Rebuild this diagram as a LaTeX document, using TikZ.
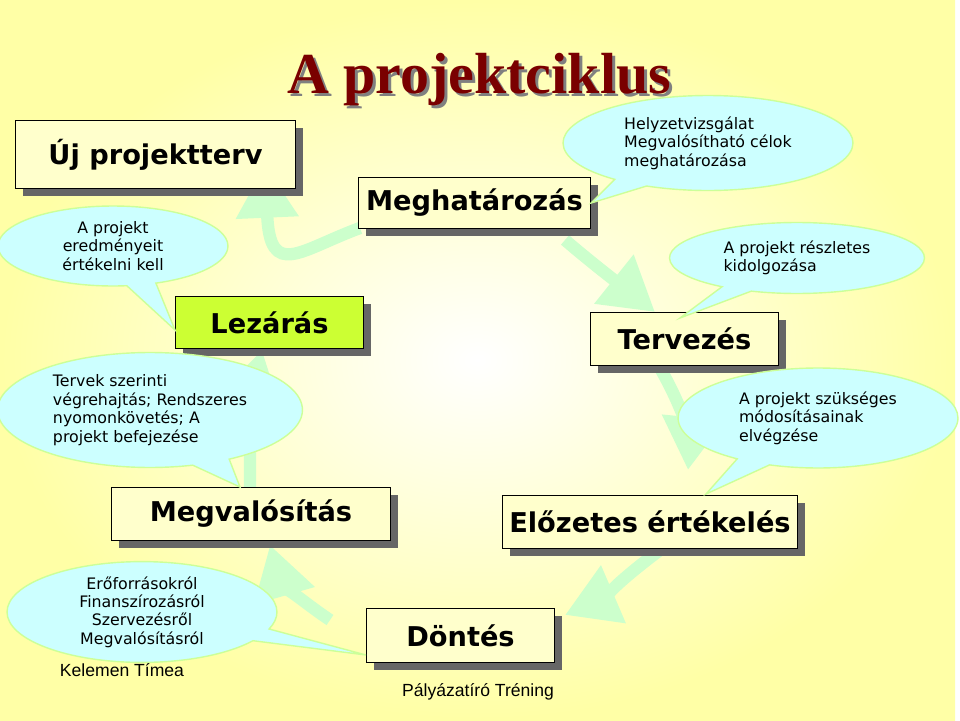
\documentclass[tikz,border=0pt]{standalone}
\usepackage{fontspec}
\setmainfont{DejaVu Sans}
\newfontfamily\titlefont{Liberation Serif}
\newfontfamily\arialfont{Liberation Sans}
\usetikzlibrary{shapes.callouts,shadows,arrows.meta}
\definecolor{boxy}{HTML}{FFFFCC}
\definecolor{lime}{HTML}{CCFF33}
\definecolor{balloon}{HTML}{CCFFFF}
\definecolor{balloonline}{HTML}{CCFF99}
\definecolor{cyc}{HTML}{CCFFCC}
\definecolor{titlered}{HTML}{7A0000}
\tikzset{
  stage/.style={draw=black, line width=0.6pt, fill=boxy, inner sep=0pt,
    font=\fontsize{15.5}{17}\selectfont\bfseries,
    drop shadow={shadow xshift=4.5pt, shadow yshift=-4.5pt, fill=gray!80!black, opacity=1}},
  bub/.style={ellipse callout, draw=balloonline, line width=0.8pt, fill=balloon,
    inner sep=0pt, font=\fontsize{9}{10.5}\selectfont, align=left},
  cycarrow/.style={draw=cyc, line width=7pt, -{Triangle[length=30pt,width=34pt]}},
}
\begin{document}
\begin{tikzpicture}[x=0.02cm,y=-0.02cm]
\useasboundingbox (0,0) rectangle (960,720);
% background
\fill[white] (0,0) rectangle (960,720);
\shade[inner color=white, outer color=yellow!35] (0,0) rectangle (955,720);
% cycle arrows
\draw[cycarrow] (360,228) .. controls (300,250) and (270,280) .. (265,165);
\draw[cycarrow] (565,240) .. controls (600,270) and (640,300) .. (655,312);
\draw[cycarrow] (660,368) .. controls (690,420) and (690,450) .. (688,470);
\draw[cycarrow] (660,550) .. controls (620,580) and (600,600) .. (565,615);
\draw[cycarrow] (330,620) .. controls (300,600) and (280,580) .. (270,545);
\draw[cycarrow] (250,488) .. controls (250,440) and (250,400) .. (262,350);
% title
\node[font=\titlefont\fontsize{33}{36}\selectfont\bfseries, text=gray] (titleshadow) at (482,83) {A projektciklus};
\node[font=\titlefont\fontsize{33}{36}\selectfont\bfseries, text=titlered] (title) at (479,80) {A projektciklus};
% stages
\node[stage, anchor=north west, minimum width=5.6cm, minimum height=1.36cm] (uj) at (15,120) {Új projektterv};
\node[stage, anchor=north west, minimum width=4.64cm, minimum height=1.02cm] (megh) at (358,177) {Meghatározás};
\node[stage, fill=lime, anchor=north west, minimum width=3.76cm, minimum height=1.04cm] (lez) at (175,296) {Lezárás};
\node[stage, anchor=north west, minimum width=3.76cm, minimum height=1.06cm] (terv) at (590,312) {Tervezés};
\node[stage, anchor=north west, minimum width=5.58cm, minimum height=1.06cm] (megv) at (111,487) {Megvalósítás};
\node[stage, anchor=north west, minimum width=5.9cm, minimum height=1.06cm] (elo) at (502,495) {Előzetes értékelés};
\node[stage, anchor=north west, minimum width=3.76cm, minimum height=1.08cm] (dont) at (366,608) {Döntés};
% balloons
\node[bub, minimum width=5.8cm, minimum height=1.9cm, callout absolute pointer={(megh.east)}] (b1) at (708,143) {Helyzetvizsgálat\\Megvalósítható célok\\meghatározása};
\node[bub, minimum width=5.1cm, minimum height=1.42cm, callout absolute pointer={(680,318)}] (b2) at (797,258) {A projekt részletes\\kidolgozása};
\node[bub, minimum width=5.6cm, minimum height=2.0cm, callout absolute pointer={(706,494)}] (b3) at (818,418) {A projekt szükséges\\módosításainak\\elvégzése};
\node[bub, minimum width=6.1cm, minimum height=2.3cm, callout absolute pointer={(240,487)}] (b4) at (150,410) {Tervek szerinti\\végrehajtás; Rendszeres\\nyomonkövetés; A\\projekt befejezése};
\node[bub, align=center, minimum width=4.6cm, minimum height=1.6cm, callout absolute pointer={(175,330)}] (b5) at (113,246) {A projekt\\eredményeit\\értékelni kell};
\node[bub, align=center, minimum width=5.4cm, minimum height=2.0cm, callout absolute pointer={(366,655)}] (b6) at (142,612) {Erőforrásokról\\Finanszírozásról\\Szervezésről\\Megvalósításról};
% footer texts
\node[font=\arialfont\fontsize{10}{12}\selectfont] (author) at (122,670) {Kelemen Tímea};
\node[font=\arialfont\fontsize{10}{12}\selectfont] (foot) at (478,692) {Pályázatíró Tréning};
\end{tikzpicture}
\end{document}
